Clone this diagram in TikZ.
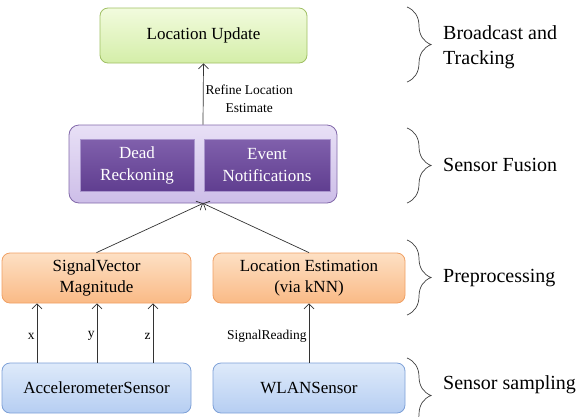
\documentclass[tikz,border=0pt]{standalone}
\usepackage{fontspec}
\setmainfont{LiberationSerif}[Extension=.ttf, UprightFont=*-Regular, BoldFont=*-Bold, ItalicFont=*-Italic, BoldItalicFont=*-BoldItalic]
\newfontfamily\tnr{LiberationSerif}[Extension=.ttf, UprightFont=*-Regular]
\usepackage{tikz}
\usetikzlibrary{arrows.meta,decorations.pathreplacing,calc}

\definecolor{grntop}{RGB}{242,251,222}
\definecolor{grnbot}{RGB}{212,238,168}
\definecolor{grnline}{RGB}{160,192,100}
\definecolor{lavtop}{RGB}{232,224,246}
\definecolor{lavbot}{RGB}{205,190,232}
\definecolor{lavline}{RGB}{130,105,170}
\definecolor{purtop}{RGB}{128,96,172}
\definecolor{purbot}{RGB}{96,62,144}
\definecolor{purline}{RGB}{170,150,205}
\definecolor{orgtop}{RGB}{253,224,196}
\definecolor{orgbot}{RGB}{250,186,134}
\definecolor{orgline}{RGB}{240,160,100}
\definecolor{blutop}{RGB}{222,234,250}
\definecolor{blubot}{RGB}{182,206,242}
\definecolor{bluline}{RGB}{125,160,215}

\begin{document}
\begin{tikzpicture}[x=1pt,y=-1pt,
						box/.style = {draw, rounded corners=8pt, align=center, inner sep=2pt, line width=0.8pt,
							font=\tnr\fontsize{17pt}{21pt}\selectfont},
						greenbox/.style = {box, top color=grntop, bottom color=grnbot, draw=grnline},
						fusebox/.style = {box, top color=lavtop, bottom color=lavbot, draw=lavline, rounded corners=10pt},
						purplebox/.style = {draw=purline, line width=0.8pt, top color=purtop, bottom color=purbot,
							text=white, align=center, inner sep=2pt, font=\tnr\fontsize{17pt}{22pt}\selectfont},
						orangebox/.style = {box, top color=orgtop, bottom color=orgbot, draw=orgline},
						bluebox/.style = {box, top color=blutop, bottom color=blubot, draw=bluline},
						arr/.style = {-{Straight Barb[length=5pt,width=10pt,line width=0.7pt]}, draw=black!80, line width=0.7pt},
						lbl/.style = {font=\tnr\fontsize{13.5pt}{18pt}\selectfont, align=center, inner sep=2pt},
						layer/.style = {font=\tnr\fontsize{20pt}{25pt}\selectfont, align=left, anchor=west, inner sep=0pt},
						brc/.style = {decorate, decoration={brace, amplitude=24pt, aspect=0.5}, draw=black!75, line width=0.7pt}
					]

					\useasboundingbox (0,0) rectangle (576,416);
					\clip (0,0) rectangle (576,416);

					% boxes
					\node[greenbox, minimum width=207pt, minimum height=55pt] (update) at (203.5,35.5) {Location Update};

					\node[fusebox, minimum width=268pt, minimum height=78pt] (fusion) at (203,164) {};
					\node[purplebox, minimum width=114pt, minimum height=52pt] (dead) at (137,165) {Dead\\Reckoning};
					\node[purplebox, minimum width=126pt, minimum height=52pt] (event) at (267,165) {Event\\Notifications};

					\node[orangebox, minimum width=189pt, minimum height=50pt] (svm) at (96.5,278) {SignalVector\\Magnitude};
					\node[orangebox, minimum width=192pt, minimum height=50pt] (locest) at (309,278) {Location Estimation\\(via kNN)};

					\node[bluebox, minimum width=189pt, minimum height=50pt] (acc) at (96.5,388) {AccelerometerSensor};
					\node[bluebox, minimum width=192pt, minimum height=50pt] (wlan) at (309,388) {WLANSensor};

					% connectors
					\draw[arr] (fusion.north) -- node[lbl, right, pos=0.42]{Refine Location\\Estimate} (update.south);
					\draw[arr] (svm.north) -- (fusion.south);
					\draw[arr] (locest.north) -- (fusion.south);
					\foreach \ax/\xx in {x/37,y/97,z/153}
						\draw[arr] (acc.north -| \xx,0) -- node[lbl, left, pos=0.45]{\ax} (svm.south -| \xx,0);
					\draw[arr] (wlan.north) -- node[lbl, left, pos=0.45]{SignalReading} (locest.south);

					% layers
					\coordinate (b1t) at (407,7);   \coordinate (b1b) at (407,82);
					\coordinate (b2t) at (407,128); \coordinate (b2b) at (407,203);
					\coordinate (b3t) at (407,240); \coordinate (b3b) at (407,315);
					\coordinate (b4t) at (407,358); \coordinate (b4b) at (407,433);
					\draw[brc] (b1t) -- (b1b);
					\draw[brc] (b2t) -- (b2b);
					\draw[brc] (b3t) -- (b3b);
					\draw[brc] (b4t) -- (b4b);

					\node[layer] (bcast) at (443,47.5) {Broadcast and\\Tracking};
					\node[layer] (sfus) at (443,165) {Sensor Fusion};
					\node[layer] (prep) at (443,278) {Preprocessing};
					\node[layer] (samp) at (443,385) {Sensor sampling};

				\end{tikzpicture}
\end{document}
